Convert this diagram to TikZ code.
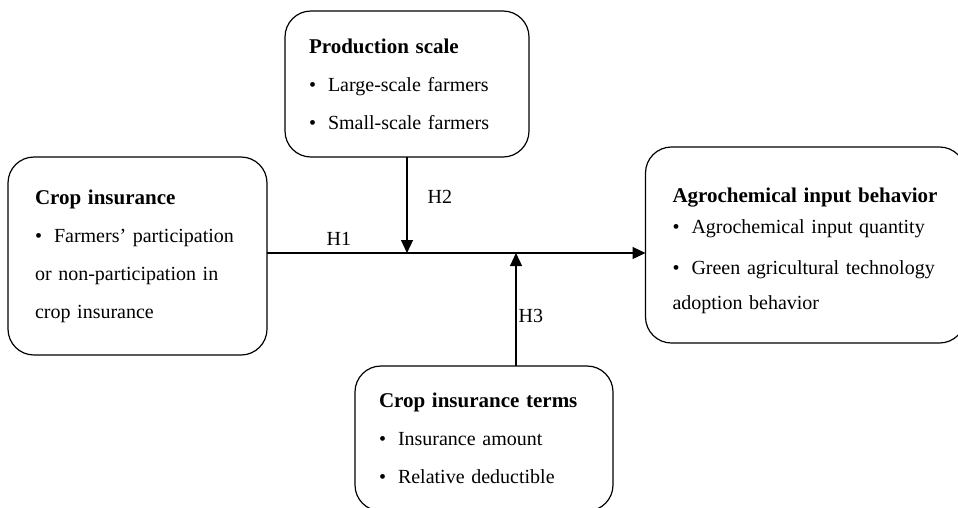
\documentclass[tikz,border=0pt]{standalone}
\usepackage{fontspec}
\setmainfont{Liberation Serif}
\usetikzlibrary{arrows.meta,positioning}

\hyphenpenalty=10000
\newcommand{\bul}{\textbullet\hspace{12pt}}
\newcommand{\ttl}[1]{{\fontsize{21}{38}\selectfont\bfseries #1}}

\begin{document}
\begin{tikzpicture}[x=1pt, y=-1pt, line width=1.2pt,
  box/.style={draw, rounded corners=26pt, outer sep=0pt, align=left,
    font=\fontsize{20}{38}\selectfont},
  arr/.style={-{Triangle[length=13pt,width=12pt]}},
  hlab/.style={font=\fontsize{20}{24}\selectfont, inner sep=2pt}]

\useasboundingbox (0,0) rectangle (958,507);

% the four boxes
\node[box, minimum width=259pt, minimum height=198pt, inner xsep=27pt, text width=205pt] (ins) at (137.5,256)
  {\ttl{Crop insurance}\\ \bul Farmers' participation\\ or non-participation in\\ crop insurance};
\node[box, minimum width=244pt, minimum height=146pt, inner xsep=24pt, text width=196pt] (scale) at (407,84)
  {\ttl{Production scale}\\ \bul Large-scale farmers\\ \bul Small-scale farmers};
\node[box, minimum width=320pt, minimum height=196pt, inner xsep=27pt, text width=266pt] (agro) at (805.5,245)
  {\rule{0pt}{26pt}\ttl{Agrochemical input behavior}\\[-7pt] \bul Agrochemical input quantity\\[3pt] \bul Green agricultural technology\\[-3pt] adoption behavior};
\node[box, minimum width=258pt, minimum height=145pt, inner xsep=24pt, text width=210pt] (terms) at (484,438.5)
  {\ttl{Crop insurance terms}\\ \bul Insurance amount\\ \bul Relative deductible};

% the main path
\coordinate (h1) at (0,253);
\draw[arr] (ins.east |- h1) -- node[hlab, pos=0.19, above=5pt] (lab1) {H1} (agro.west |- h1);

% the moderating paths
\draw[arr] (scale.south) -- node[hlab, pos=0.42, right=18pt] (lab2) {H2} (scale.south |- h1);
\draw[arr] ([xshift=32pt]terms.north) -- node[hlab, pos=0.44, right=0pt] (lab3) {H3} ([xshift=32pt]terms.north |- h1);

\end{tikzpicture}
\end{document}
